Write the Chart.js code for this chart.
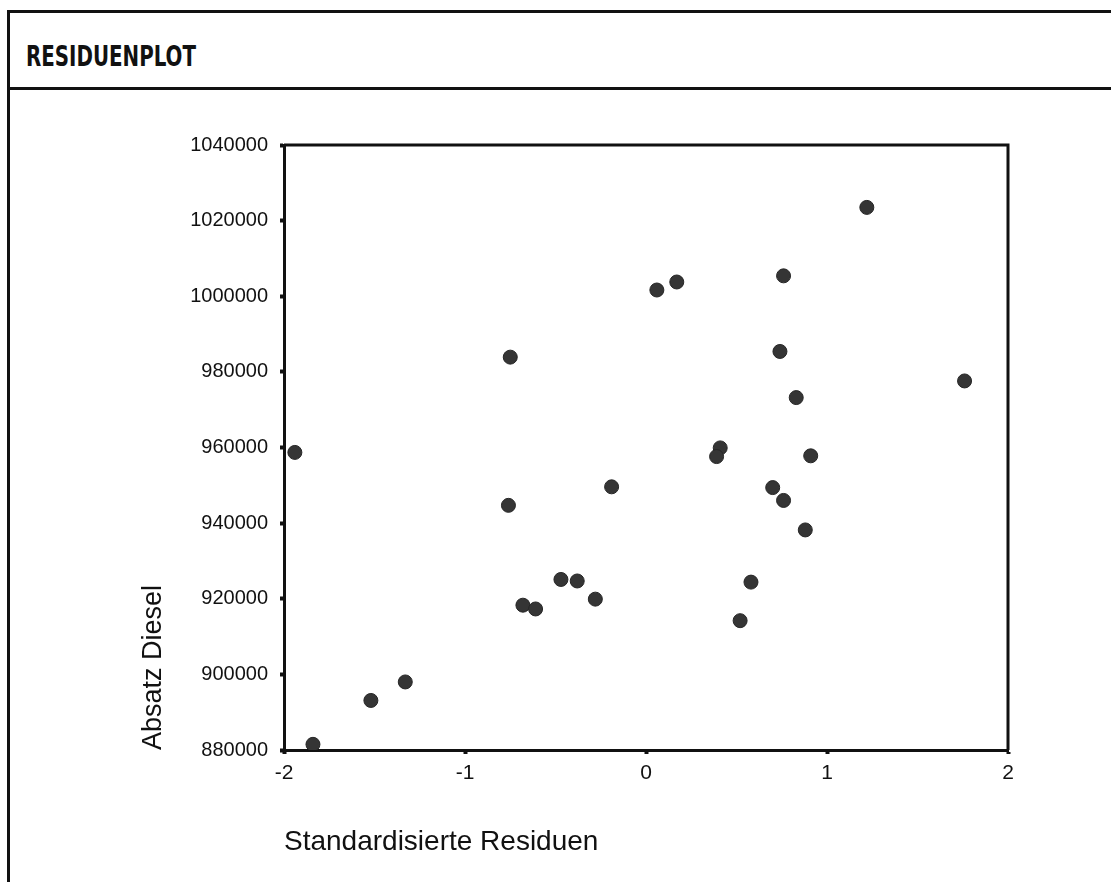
<!DOCTYPE html>
<html>
<head>
<meta charset="utf-8">
<title>Residuenplot</title>
<script src="https://cdn.jsdelivr.net/npm/chart.js@4/dist/chart.umd.min.js"></script>
<style>
    body {
        margin: 0;
        background: #fff;
        width: 1111px;
        height: 882px;
        overflow: hidden;
        position: relative;
    }
    .rahmen {
        position: absolute;
        left: 7px;
        top: 10px;
        width: 1120px;
        height: 880px;
        border-top: 3px solid #111;
        border-left: 3px solid #111;
    }
    .kopf {
        position: absolute;
        left: 7px;
        top: 10px;
        width: 1120px;
        height: 77px;
        border-bottom: 3px solid #111;
    }
    .titel {
        position: absolute;
        left: 26px;
        top: 42px;
        font-family: "DejaVu Sans Condensed", "DejaVu Sans", sans-serif;
        font-weight: bold;
        font-size: 29px;
        line-height: 29px;
        color: #111;
        transform: scaleX(0.76);
        transform-origin: left top;
        white-space: nowrap;
    }
    #chart {
        position: absolute;
        left: 0;
        top: 92px;
    }
</style>
</head>
<body>
<div class="rahmen"></div>
<div class="kopf"></div>
<div class="titel">RESIDUENPLOT</div>
<canvas id="chart" width="1111" height="790"></canvas>

<script>
// Standardisierte Residuen (x) und Absatz Diesel (y)
var residuen = [-1.84, -1.52, -1.33, -1.94, 1.22, 0.76, 0.06, 0.17, -0.75, 0.74,
    0.83, 1.76, 0.41, 0.39, 0.91, -0.19, 0.70, 0.76, -0.76, 0.88,
    -0.47, -0.38, 0.58, -0.28, -0.68, -0.61, 0.52];
var absatz = [881500, 893100, 898000, 958700, 1023500, 1005400, 1001650, 1003770, 983900, 985400,
    973200, 977600, 959900, 957600, 957800, 949600, 949400, 946000, 944700, 938200,
    925100, 924700, 924400, 919900, 918300, 917300, 914200];

var xTicks = [-2, -1, 0, 1, 2];
var yMin = 880000, yMax = 1040000, yStep = 20000;

var punkte = residuen.map((r, i) => ({ x: r, y: absatz[i] }));

// Rahmen oben und rechts um die Plotflaeche
const rahmenPlugin = {
    id: 'rahmen',
    afterDraw(chart) {
        const { ctx, chartArea } = chart;
        ctx.save();
        ctx.strokeStyle = '#111';
        ctx.lineWidth = 3;
        ctx.beginPath();
        ctx.moveTo(chartArea.left, chartArea.top);
        ctx.lineTo(chartArea.right, chartArea.top);
        ctx.lineTo(chartArea.right, chartArea.bottom);
        ctx.stroke();
        ctx.restore();
    }
};

var ctx = document.getElementById('chart').getContext('2d');
var myChart = new Chart(ctx, {
    type: 'scatter',
    data: {
        datasets: [{
            label: 'Absatz Diesel',
            data: punkte,
            backgroundColor: '#353535',
            borderColor: '#262626',
            borderWidth: 1,
            pointRadius: 7,
            pointHoverRadius: 7
        }]
    },
    options: {
        responsive: false,
        animation: false,
        layout: {
            padding: { left: 0, right: 103, top: 53, bottom: 0 }
        },
        plugins: {
            legend: { display: false },
            tooltip: { enabled: false }
        },
        scales: {
            x: {
                type: 'linear',
                min: -2,
                max: 2,
                afterBuildTicks: axis => {
                    axis.ticks = xTicks.map(v => ({ value: v }));
                },
                afterFit: axis => {
                    axis.height = 132;
                },
                border: { display: true, color: '#111', width: 3 },
                grid: {
                    display: true,
                    drawOnChartArea: false,
                    tickLength: 4,
                    tickWidth: 4,
                    tickColor: '#111'
                },
                ticks: {
                    padding: 7,
                    color: '#111',
                    font: { family: '"Liberation Sans", Arial, sans-serif', size: 21 },
                    callback: v => String(v)
                },
                title: {
                    display: true,
                    text: 'Standardisierte Residuen',
                    align: 'start',
                    color: '#111',
                    font: { family: '"Liberation Sans", Arial, sans-serif', size: 28, lineHeight: 1 },
                    padding: { top: 0, bottom: 26 }
                }
            },
            y: {
                type: 'linear',
                min: yMin,
                max: yMax,
                ticks: {
                    stepSize: yStep,
                    padding: 12,
                    color: '#111',
                    font: { family: '"Liberation Sans", Arial, sans-serif', size: 20 },
                    callback: v => String(v)
                },
                afterFit: axis => {
                    axis.width = 284;
                },
                border: { display: true, color: '#111', width: 3 },
                grid: {
                    display: true,
                    drawOnChartArea: false,
                    tickLength: 4,
                    tickWidth: 4,
                    tickColor: '#111'
                },
                title: {
                    display: true,
                    text: 'Absatz Diesel',
                    align: 'start',
                    color: '#111',
                    font: { family: '"Liberation Sans", Arial, sans-serif', size: 27, lineHeight: 1 },
                    padding: { top: 140, bottom: 0 }
                }
            }
        }
    },
    plugins: [rahmenPlugin]
});
</script>
</body>
</html>
